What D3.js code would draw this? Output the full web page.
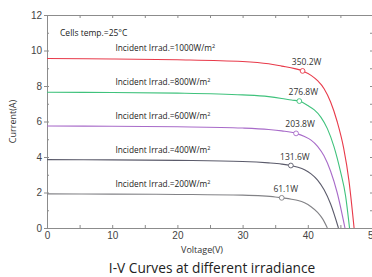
<!DOCTYPE html>
<html>
<head>
<meta charset="utf-8">
<script src="https://cdn.jsdelivr.net/npm/d3@7"></script>
<style>
  body { margin: 0; background: #fff; }
  svg { display: block; font-family: "Open Sans", sans-serif; }
</style>
</head>
<body>
<div id="chart"></div>
<script>
'use strict';

// irradiance levels, top to bottom
const irradiance = [1000, 800, 600, 400, 200];
const lineColors = ['#e83a4a', '#3fc27c', '#a86bc9', '#5b5b6b', '#828286'];

// I-V points: [voltage, current]
const curve1000 = [[0, 9.55], [10, 9.52], [20, 9.48], [30, 9.38], [34, 9.25], [36, 9.12], [38, 8.98], [39.2, 8.85], [40.5, 8.6], [41.5, 8.3], [42.5, 7.85], [43.5, 7.1], [44.5, 6.0], [45.5, 4.5], [46.3, 2.7], [47.1, 0]];
const curve800 = [[0, 7.65], [10, 7.63], [20, 7.6], [30, 7.5], [34, 7.4], [36, 7.3], [37.5, 7.21], [38.7, 7.15], [40, 6.9], [41, 6.65], [42, 6.25], [43, 5.6], [44, 4.6], [45, 3.2], [45.8, 1.8], [46.4, 0]];
const curve600 = [[0, 5.75], [10, 5.73], [20, 5.7], [30, 5.63], [34, 5.55], [36, 5.47], [38.2, 5.33], [39.5, 5.15], [40.5, 4.95], [41.5, 4.6], [42.5, 4.05], [43.5, 3.2], [44.5, 2.0], [45.7, 0]];
const curve400 = [[0, 3.85], [10, 3.84], [20, 3.81], [30, 3.75], [34, 3.67], [36, 3.6], [37.4, 3.52], [38.5, 3.42], [39.5, 3.28], [40.5, 3.05], [41.5, 2.7], [42.5, 2.15], [43.5, 1.35], [44.7, 0]];
const curve200 = [[0, 1.92], [10, 1.91], [20, 1.89], [30, 1.85], [33, 1.81], [35, 1.75], [36, 1.7], [37.5, 1.62], [38.5, 1.55], [39.5, 1.42], [40.5, 1.2], [41.5, 0.88], [42.3, 0.5], [43, 0]];
const curves = [curve1000, curve800, curve600, curve400, curve200];

// maximum power points and their labels
const mppVoltage = [39.2, 38.7, 38.2, 37.4, 36.0];
const mppCurrent = [8.85, 7.15, 5.33, 3.52, 1.70];
const mppLabels = ['350.2W', '276.8W', '203.8W', '131.6W', '61.1W'];

const xTicks = [0, 10, 20, 30, 40, 50];
const yTicks = [0, 2, 4, 6, 8, 10, 12];

const width = 372;
const height = 277;
const margin = { top: 15, right: -1, bottom: 49, left: 47 };

const svg = d3.select('#chart')
  .append('svg')
  .attr('width', width)
  .attr('height', height);

const x = d3.scaleLinear().domain([0, 50]).range([margin.left, width - margin.right]);
const y = d3.scaleLinear().domain([0, 12]).range([height - margin.bottom, margin.top]);

const axisColor = '#8c8c8c';

const styleAxis = (g) => {
  g.select('.domain').attr('stroke', axisColor);
  g.selectAll('.tick line').attr('stroke', axisColor);
  g.selectAll('.tick text').attr('fill', '#444').attr('font-size', '10px');
};

// left axis: outer major ticks with labels, inner minor ticks
svg.append('g')
  .attr('transform', `translate(${x(0)},0)`)
  .call(d3.axisLeft(y).tickValues(yTicks).tickSize(3).tickPadding(2).tickSizeOuter(0))
  .call(styleAxis);
svg.append('g')
  .attr('transform', `translate(${x(0)},0)`)
  .call(d3.axisRight(y).ticks(12).tickSize(2).tickFormat('').tickSizeOuter(0))
  .call(styleAxis)
  .select('.domain').remove();

// bottom axis
svg.append('g')
  .attr('transform', `translate(0,${y(0)})`)
  .call(d3.axisBottom(x).tickValues(xTicks).tickSize(0).tickPadding(4))
  .call(styleAxis);
svg.append('g')
  .attr('transform', `translate(0,${y(0)})`)
  .call(d3.axisTop(x).ticks(10).tickSize(3).tickFormat('').tickSizeOuter(0))
  .call(styleAxis)
  .select('.domain').remove();

// top and right frame
svg.append('g')
  .attr('transform', `translate(0,${y(12)})`)
  .call(d3.axisBottom(x).ticks(10).tickSize(3).tickFormat('').tickSizeOuter(0))
  .call(styleAxis);
svg.append('g')
  .attr('transform', `translate(${x(50)},0)`)
  .call(d3.axisLeft(y).ticks(12).tickSize(3).tickFormat('').tickSizeOuter(0))
  .call(styleAxis);

const line = d3.line()
  .x((d) => x(d[0]))
  .y((d) => y(d[1]))
  .curve(d3.curveMonotoneX);

curves.forEach((pts, i) => {
  svg.append('path')
    .datum(pts)
    .attr('fill', 'none')
    .attr('stroke', lineColors[i])
    .attr('stroke-width', 1.1)
    .attr('d', line);

  svg.append('text')
    .attr('x', x(10.5))
    .attr('y', y(pts[0][1]) - 7)
    .attr('font-size', '8.3px')
    .attr('fill', '#222')
    .text(`Incident Irrad.=${irradiance[i]}W/m`)
    .append('tspan')
    .attr('dy', -3)
    .attr('font-size', '5.5px')
    .text('2');

  svg.append('circle')
    .attr('cx', x(mppVoltage[i]))
    .attr('cy', y(mppCurrent[i]))
    .attr('r', 2.4)
    .attr('fill', '#fff')
    .attr('stroke', lineColors[i])
    .attr('stroke-width', 0.9);

  svg.append('text')
    .attr('x', x(mppVoltage[i]) + 4)
    .attr('y', y(mppCurrent[i]) - 6)
    .attr('text-anchor', 'middle')
    .attr('font-size', '8.5px')
    .attr('fill', '#333')
    .text(mppLabels[i]);
});

svg.append('text')
  .attr('x', 60)
  .attr('y', 36)
  .attr('font-size', '8.5px')
  .attr('fill', '#222')
  .text('Cells temp.=25°C');

svg.append('text')
  .attr('transform', `translate(16,${(y(0) + y(12)) / 2}) rotate(-90)`)
  .attr('text-anchor', 'middle')
  .attr('font-size', '9px')
  .attr('fill', '#333')
  .text('Current(A)');

svg.append('text')
  .attr('x', 202)
  .attr('y', 253)
  .attr('text-anchor', 'middle')
  .attr('font-size', '9px')
  .attr('fill', '#333')
  .text('Voltage(V)');

svg.append('text')
  .attr('x', 212)
  .attr('y', 273)
  .attr('text-anchor', 'middle')
  .attr('font-size', '13.7px')
  .attr('fill', '#222')
  .text('I-V Curves at different irradiance');
</script>
</body>
</html>
